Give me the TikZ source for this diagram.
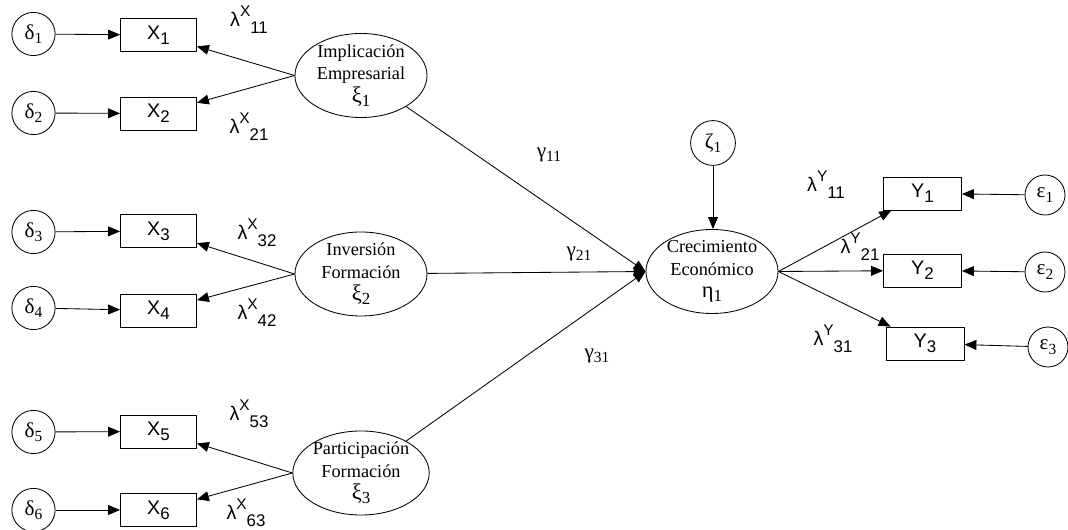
\documentclass[tikz,border=0pt]{standalone}
\usepackage{fontspec}
\setmainfont{Liberation Serif}
\setsansfont{Liberation Sans}
\usetikzlibrary{arrows.meta,shapes,positioning,calc}
\tikzset{
	errv/.style={circle,draw,inner sep=0,minimum size=1.08cm,font=\fontsize{15}{17}\selectfont},
	obs/.style={rectangle,draw,inner sep=0,minimum width=1.9cm,minimum height=0.825cm,font=\sffamily\fontsize{14}{16}\selectfont},
	lat/.style={ellipse,draw,inner xsep=0,inner ysep=-6pt,minimum width=3.3cm,minimum height=2.1cm,align=center,font=\fontsize{13}{16}\selectfont},
	diredge/.style={-{Triangle[width=7pt,length=8.5pt]},color=black},
	loadlabel/.style={font=\sffamily\fontsize{14}{16}\selectfont},
	pathlabel/.style={font=\fontsize{15}{17}\selectfont}
}
% lowered index, written after the symbol
\newcommand{\sub}[2][11]{\raisebox{-0.45ex}{\fontsize{#1}{#1}\selectfont #2}}
\newcommand{\lam}[2]{λ\raisebox{0.9ex}{\fontsize{11}{12}\selectfont #1}\raisebox{-0.7ex}{\fontsize{12}{13}\selectfont #2}}

\begin{document}
\begin{tikzpicture}[x=0.025cm,y=-0.025cm,line width=0.6pt]
		\useasboundingbox (0,0) rectangle (1068,530);
		
		% exogenous side
		\node[errv] (D1) at (33.5,34) {δ\sub{1}};
		\node[errv] (D2) at (33.5,113) {δ\sub{2}};
		\node[errv] (D3) at (33.5,232) {δ\sub{3}};
		\node[errv] (D4) at (33.5,308) {δ\sub{4}};
		\node[errv] (D5) at (33.5,432) {δ\sub{5}};
		\node[errv] (D6) at (33.5,510) {δ\sub{6}};
		
		\node[obs] (X1) at (158.5,35) {X\sub[12]{1}};
		\node[obs] (X2) at (158.5,113.5) {X\sub[12]{2}};
		\node[obs] (X3) at (158.5,231) {X\sub[12]{3}};
		\node[obs] (X4) at (158.5,310.5) {X\sub[12]{4}};
		\node[obs] (X5) at (158.5,431.5) {X\sub[12]{5}};
		\node[obs] (X6) at (158.5,510) {X\sub[12]{6}};
		
		\node[lat] (XI1) at (361,75.5) {Implicación\\Empresarial\\{\fontsize{16}{16}\selectfont ξ}\sub[12]{1}};
		\node[lat] (XI2) at (361,274) {Inversión\\Formación\\{\fontsize{16}{16}\selectfont ξ}\sub[12]{2}};
		\node[lat] (XI3) at (361,473) {Participación\\Formación\\{\fontsize{16}{16}\selectfont ξ}\sub[12]{3}};
		
		% endogenous side
		\node[lat] (ETA) at (712,271.5) {Crecimiento\\Económico\\{\fontsize{16}{16}\selectfont η}\sub[12]{1}};
		\node[errv,minimum size=1.12cm] (ZETA) at (713,143) {ζ\sub{1}};
		
		\node[obs,minimum width=1.95cm] (Y1) at (922.5,193.5) {Y\sub[12]{1}};
		\node[obs,minimum width=1.95cm] (Y2) at (922.5,270.5) {Y\sub[12]{2}};
		\node[obs,minimum width=1.95cm] (Y3) at (925,343.5) {Y\sub[12]{3}};
		
		\node[errv,minimum size=1.0cm] (E1) at (1045,195) {ε\sub{1}};
		\node[errv,minimum size=1.0cm] (E2) at (1045,272) {ε\sub{2}};
		\node[errv,minimum size=1.0cm] (E3) at (1048,347) {ε\sub{3}};
		
		\draw[diredge] (D1) -- (X1);
		\draw[diredge] (D2) -- (X2);
		\draw[diredge] (D3) -- (X3);
		\draw[diredge] (D4) -- (X4);
		\draw[diredge] (D5) -- (X5);
		\draw[diredge] (D6) -- (X6);
		
		\draw[diredge] (XI1.west) -- (X1);
		\draw[diredge] (XI1.west) -- (X2);
		\draw[diredge] (XI2.west) -- (X3);
		\draw[diredge] (XI2.west) -- (X4);
		\draw[diredge] (XI3.west) -- (X5);
		\draw[diredge] (XI3.west) -- (X6);
		
		\draw[diredge] (XI1) -- (ETA.west);
		\draw[diredge] (XI2) -- (ETA.west);
		\draw[diredge] (XI3) -- (ETA.west);
		\draw[diredge] (ZETA) -- (ZETA |- ETA.north);
		
		\draw[diredge] (ETA.east) -- (Y1);
		\draw[diredge] (ETA.east) -- (Y2);
		\draw[diredge] (ETA.east) -- (Y3);
		
		\draw[diredge] (E1) -- (Y1);
		\draw[diredge] (E2) -- (Y2);
		\draw[diredge] (E3) -- (Y3);
		
		% loadings and paths
		\node[loadlabel] (L11) at (249,20) {\lam{X}{11}};
		\node[loadlabel] (L21) at (249,127) {\lam{X}{21}};
		\node[loadlabel] (L32) at (257,233) {\lam{X}{32}};
		\node[loadlabel] (L42) at (257,313) {\lam{X}{42}};
		\node[loadlabel] (L53) at (249,414) {\lam{X}{53}};
		\node[loadlabel] (L63) at (246,513) {\lam{X}{63}};
		
		\node[pathlabel] (G11) at (549,155) {γ\sub{11}};
		\node[pathlabel] (G21) at (579,254) {γ\sub{21}};
		\node[pathlabel] (G31) at (597,356) {γ\sub{31}};
		
		\node[loadlabel] (LY11) at (826,185) {\lam{Y}{11}};
		\node[loadlabel] (LY21) at (860,247) {\lam{Y}{21}};
		\node[loadlabel] (LY31) at (833,339) {\lam{Y}{31}};
		
	\end{tikzpicture}
\end{document}
